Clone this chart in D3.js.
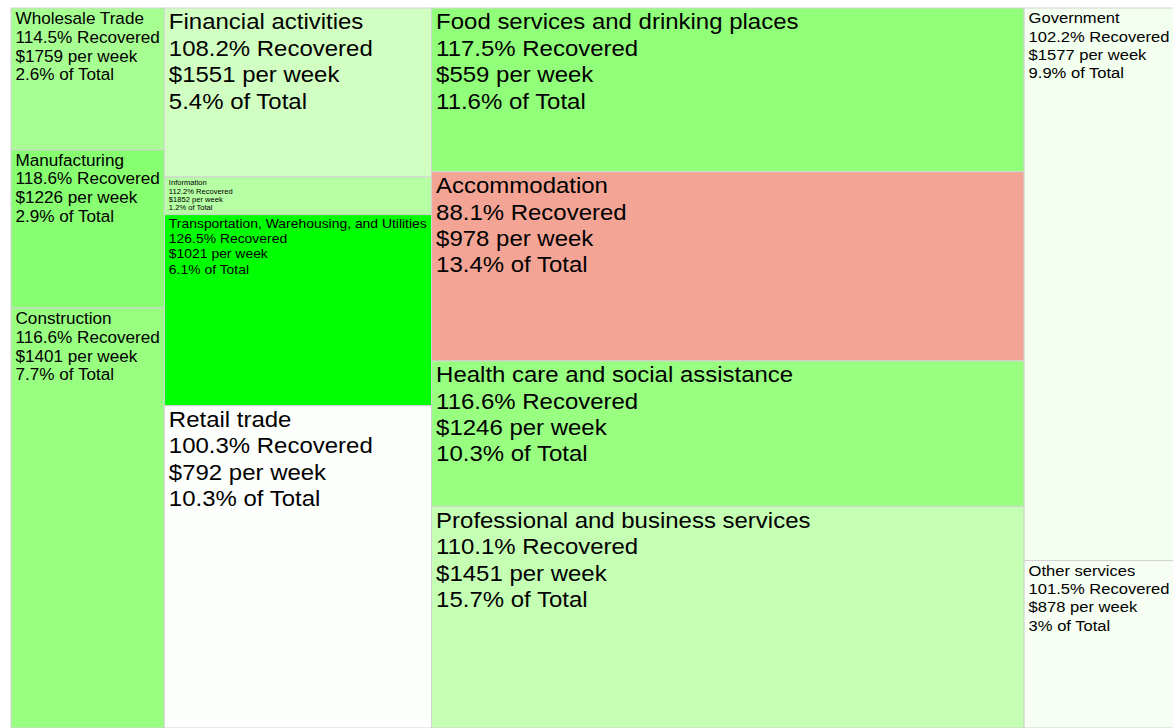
<!DOCTYPE html>
<html>
<head>
<meta charset="utf-8">
<script src="https://cdn.jsdelivr.net/npm/d3@7/dist/d3.min.js"></script>
<style>
  html, body { margin: 0; padding: 0; background: #fff; }
  svg { display: block; }
  text { font-family: "Liberation Sans", Arial, sans-serif; fill: #000; }
</style>
</head>
<body>
<svg id="chart" width="1173" height="728"></svg>
<script>
// ---- data ----
const categories = [
  "Wholesale Trade", "Manufacturing", "Construction",
  "Financial activities", "Information", "Transportation, Warehousing, and Utilities", "Retail trade",
  "Food services and drinking places", "Accommodation", "Health care and social assistance", "Professional and business services",
  "Government", "Other services"
];
const groupOf   = [0, 0, 0, 1, 1, 1, 1, 2, 2, 2, 2, 3, 3];
const recovered = [114.5, 118.6, 116.6, 108.2, 112.2, 126.5, 100.3, 117.5, 88.1, 116.6, 110.1, 102.2, 101.5];
const weekly    = [1759, 1226, 1401, 1551, 1852, 1021, 792, 559, 978, 1246, 1451, 1577, 878];
const share     = [2.6, 2.9, 7.7, 5.4, 1.2, 6.1, 10.3, 11.6, 13.4, 10.3, 15.7, 9.9, 3];

// ---- layout ----
const svg = d3.select("#chart");
const marginLeft = 11, marginTop = 8, W = 1163, H = 720;

const groupIds = Array.from(new Set(groupOf));
const data = {
  name: "root",
  children: groupIds.map(g => ({
    name: "group" + g,
    children: categories.map((c, i) => ({ i, name: c, value: share[i] })).filter(d => groupOf[d.i] === g)
  }))
};

const root = d3.hierarchy(data).sum(d => d.value || 0);
d3.treemap().tile(d3.treemapSliceDice).size([W, H]).round(false)(root);

const maxDev = d3.max(recovered, v => Math.abs(v - 100));
const color = d3.scaleLinear()
  .domain([100 - maxDev, 100, 100 + maxDev])
  .range(["#cb1d23", "white", "lime"])
  .interpolate(d3.interpolateLab);

const plot = svg.append("g").attr("transform", `translate(${marginLeft},${marginTop})`);
const leaves = root.leaves();

const cell = plot.selectAll("g.cell").data(leaves).join("g").attr("class", "cell");

cell.append("rect")
  .attr("x", d => d.x0)
  .attr("y", d => d.y0)
  .attr("width", d => d.x1 - d.x0)
  .attr("height", d => d.y1 - d.y0)
  .attr("fill", d => color(recovered[d.data.i]))
  .attr("stroke", "#d2d2d2")
  .attr("stroke-width", 1);

const lines = i => [
  categories[i],
  `${recovered[i]}% Recovered`,
  `$${weekly[i]} per week`,
  `${share[i]}% of Total`
];

// measurement helper
const meas = svg.append("text").attr("font-size", 100).attr("visibility", "hidden");
function widthAt100(s) { meas.text(s); return meas.node().getComputedTextLength(); }

const stretch = 1.09;
cell.each(function(d) {
  const i = d.data.i;
  const w = d.x1 - d.x0, h = d.y1 - d.y0;
  const ls = lines(i);
  const maxW = d3.max(ls, widthAt100) / 100 * stretch;
  const fs = Math.min(22, h / 5.4, (w - 9) / maxW);
  const t = d3.select(this).append("g")
    .attr("transform", `translate(${d.x0 + 4.5},${d.y0 + 2}) scale(${stretch},1)`)
    .append("text")
    .attr("font-size", fs.toFixed(2));
  t.selectAll("tspan").data(ls).join("tspan")
    .attr("x", 0)
    .attr("y", (s, k) => (0.88 * fs + k * 1.2 * fs).toFixed(2))
    .text(s => s);
});
meas.remove();
</script>
</body>
</html>
